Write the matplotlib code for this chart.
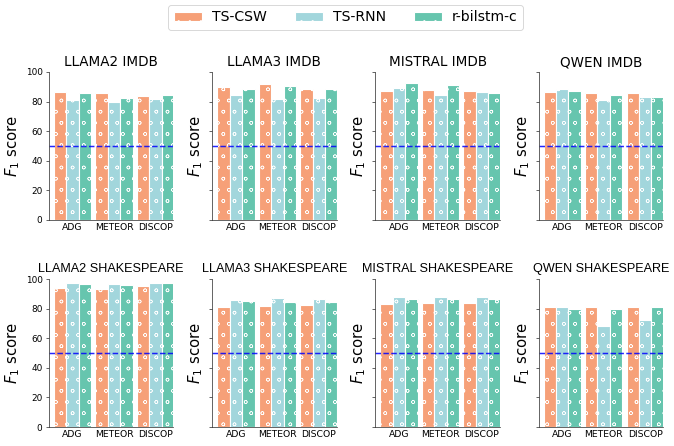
import matplotlib
matplotlib.use("Agg")
import matplotlib.pyplot as plt
import matplotlib.hatch
import numpy as np

methods = ["ADG", "METEOR", "DISCOP"]
detectors = ["TS-CSW", "TS-RNN", "r-bilstm-c"]
colors = ["#F6A078", "#A2D6DC", "#66C5AE"]

titles_imdb = ["LLAMA2 IMDB", "LLAMA3 IMDB", "MISTRAL IMDB", "QWEN IMDB"]
titles_shake = ["LLAMA2 SHAKESPEARE", "LLAMA3 SHAKESPEARE",
                "MISTRAL SHAKESPEARE", "QWEN SHAKESPEARE"]

# rows: TS-CSW, TS-RNN, r-bilstm-c ; columns: ADG, METEOR, DISCOP
llama2_imdb = [[86.4, 85.7, 83.9], [81.0, 79.9, 81.4], [86.0, 82.4, 84.6]]
llama3_imdb = [[89.8, 92.1, 88.2], [84.2, 81.4, 82.4], [88.5, 90.7, 88.5]]
mistral_imdb = [[87.1, 88.0, 87.1], [89.1, 84.4, 86.4], [92.8, 91.4, 85.7]]
qwen_imdb = [[86.2, 85.7, 85.7], [88.2, 80.8, 83.3], [87.1, 84.4, 83.3]]

llama2_shake = [[94.3, 93.2, 95.2], [97.1, 96.6, 97.1], [96.6, 95.9, 97.1]]
llama3_shake = [[80.8, 82.1, 82.8], [86.0, 86.9, 86.7], [85.3, 84.8, 84.6]]
mistral_shake = [[83.0, 83.7, 83.5], [88.2, 87.6, 87.6], [86.7, 86.7, 86.2]]
qwen_shake = [[81.4, 80.8, 80.8], [81.2, 68.3, 72.6], [79.9, 79.9, 81.4]]

rows = [
    (titles_imdb, [llama2_imdb, llama3_imdb, mistral_imdb, qwen_imdb], "DejaVu Sans", 14.5, 6),
    (titles_shake, [llama2_shake, llama3_shake, mistral_shake, qwen_shake], "Liberation Sans", 13.6, 8),
]

# smaller hatch circles than the default 'o'
matplotlib.hatch.SmallCircles.size = 0.14
plt.rcParams["hatch.linewidth"] = 0.6

DPI = 67
fig, axes = plt.subplots(2, 4, figsize=(674 / DPI, 446 / DPI), dpi=DPI, sharey=True)
fig.subplots_adjust(left=0.0727, right=0.9837, top=0.8386, bottom=0.0426,
                    wspace=0.312, hspace=0.40)

x = np.arange(len(methods))
w = 0.3
for r, (titles, datasets, tfont, tsize, tpad) in enumerate(rows):
    for c in range(4):
        ax = axes[r, c]
        data = datasets[c]
        for i in range(3):
            ax.bar(x + (i - 1) * w, data[i], width=w, color=colors[i],
                   edgecolor="white", linewidth=1.2, hatch="o",
                   label=detectors[i] if (r == 0 and c == 0) else None)
        ax.axhline(50, color="blue", linestyle="--", linewidth=1.6, alpha=0.85)
        ax.set_ylim(0, 100)
        ax.set_xlim(-0.57, 2.43)
        ax.set_yticks([0, 20, 40, 60, 80, 100])
        ax.set_xticks(x)
        ax.set_xticklabels(methods, fontsize=10)
        ax.tick_params(axis="x", length=0)
        ax.tick_params(axis="y", labelsize=9.5, length=3.5, color="#333333")
        ax.set_title(titles[c], fontsize=tsize, family=tfont, pad=tpad)
        ax.set_ylabel("$F_1$ score", fontsize=16)
        ax.spines["top"].set_visible(False)
        ax.spines["right"].set_visible(False)
        ax.spines["left"].set_color("#333333")
        ax.spines["bottom"].set_color("#333333")
        if c > 0:
            ax.tick_params(axis="y", labelleft=False)

handles, labels = axes[0, 0].get_legend_handles_labels()
fig.legend(handles, labels, loc="upper center", bbox_to_anchor=(0.513, 1.005),
           ncol=3, fontsize=15, handlelength=2.0, handletextpad=0.72,
           columnspacing=2.0)

plt.savefig("out.png", dpi=DPI)
